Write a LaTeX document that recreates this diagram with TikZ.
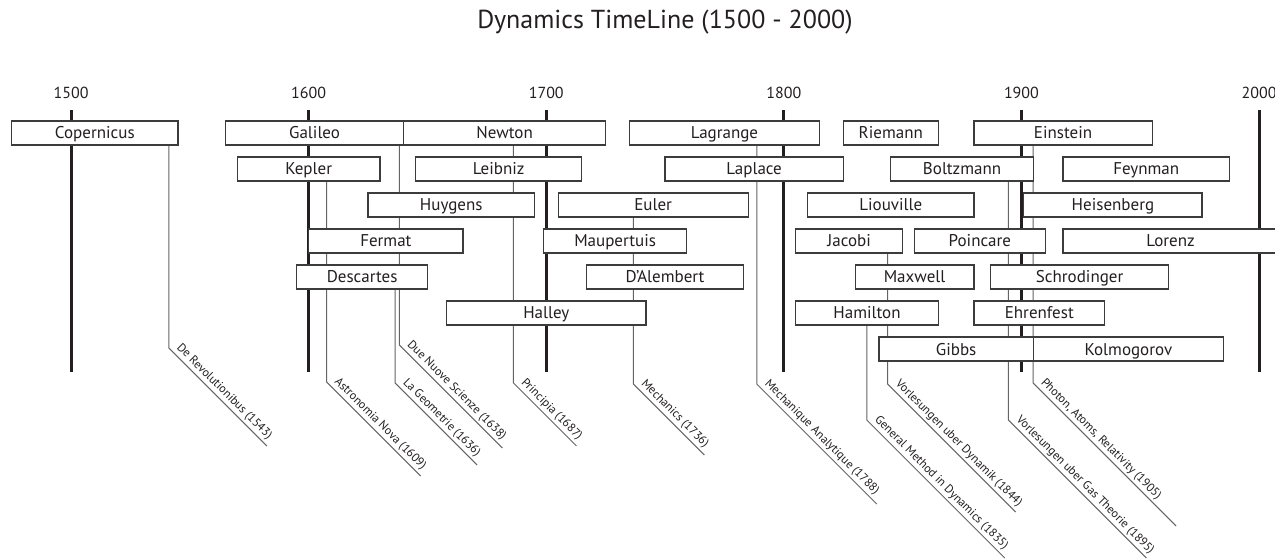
\documentclass[tikz,border=0pt]{standalone}
\usepackage{fontspec}
\setmainfont{PT Sans}
\usepackage{tikz}
\usetikzlibrary{backgrounds}

\definecolor{lineColor}{RGB}{35,31,32}
\definecolor{boxColor}{RGB}{60,60,60}
\definecolor{leadColor}{RGB}{100,100,100}

\begin{document}
\begin{tikzpicture}[x=1.188pt,y=-0.5pt,
  person/.style={draw=boxColor,line width=0.6pt,fill=white,inner sep=0pt,minimum height=12pt,text height=6pt,text depth=0pt,text=lineColor,font=\fontsize{8.5}{10}\selectfont},
  century/.style={draw=lineColor,line width=1.5pt},
  leader/.style={draw=leadColor,line width=0.5pt},
  book/.style={anchor=south west,rotate=-45,inner xsep=2.5pt,inner ysep=1pt,text=lineColor,font=\fontsize{6}{7}\selectfont}]
\useasboundingbox (1470.12,0) rectangle (2006.73,560);
\node[text=lineColor,font=\fontsize{13}{15}\selectfont] (title) at (1750,22) {Dynamics TimeLine (1500 - 2000)};
\foreach \y in {1500,1600,...,2000} {
  \node[text=lineColor,font=\fontsize{8}{9}\selectfont] (year\y) at (\y,93) {\y};
  \draw[century] (\y,110) -- (\y,372);
}
\foreach \id/\from/\to/\row/\name in {
  copernicus/1475/1545/1/Copernicus, galileo/1565/1640/1/Galileo, newton/1640/1725/1/Newton,
  lagrange/1735/1815/1/Lagrange, riemann/1825/1865/1/Riemann, einstein/1880/1955/1/Einstein,
  kepler/1570/1630/2/Kepler, leibniz/1645/1715/2/Leibniz, laplace/1750/1825/2/Laplace,
  boltzmann/1845/1905/2/Boltzmann, feynman/1917.5/1987.5/2/Feynman,
  huygens/1625/1695/3/Huygens, euler/1705/1785/3/Euler, liouville/1810/1880/3/Liouville,
  heisenberg/1901/1976/3/Heisenberg,
  fermat/1600/1665/4/Fermat, maupertuis/1699/1759/4/Maupertuis, jacobi/1805/1850/4/Jacobi,
  poincare/1855/1910/4/Poincare, lorenz/1917.5/2008/4/Lorenz,
  descartes/1595/1650/5/Descartes, dalembert/1717/1783/5/D'Alembert, maxwell/1830/1880/5/Maxwell,
  schrodinger/1887/1962/5/Schrodinger,
  halley/1658/1742/6/Halley, hamilton/1805/1865/6/Hamilton, ehrenfest/1880/1935/6/Ehrenfest,
  gibbs/1840/1905/7/Gibbs, kolmogorov/1905/1985/7/Kolmogorov}
  \node[person,minimum width={(\to-\from)*1.188pt}] (\id) at ({(\from+\to)/2},{97+36*\row}) {\name};
\begin{scope}[on background layer]
\foreach \id/\x/\bend/\len/\title in {
  copernicus/1541.2/348/49/De Revolutionibus (1543),
  kepler/1607.6/382/47/Astronomia Nova (1609),
  descartes/1636.4/383/41/La Geometrie (1636),
  galileo/1638.2/345/51.5/Due Nuove Scienze (1638),
  newton/1686.2/383/31.5/Principia (1687),
  euler/1736.7/384/35.5/Mechanics (1736),
  lagrange/1788.6/384/60/Mechanique Analytique (1788),
  hamilton/1834.9/420/69/General Method in Dynamics (1835),
  jacobi/1843.7/384/64/Vorlesungen uber Dynamik (1844),
  boltzmann/1894.5/420/69/Vorlesungen uber Gas Theorie (1895),
  {einstein/1904.9/383/71.5/Photon, Atoms, Relativity (1905)}} {
  \coordinate (\id bend) at (\x,\bend);
  \draw[leader] (\id.south -| \id bend) -- (\id bend) -- ++(\len pt,-\len pt) node[book,pos=0] {\title};
}
\end{scope}
\end{tikzpicture}
\end{document}
